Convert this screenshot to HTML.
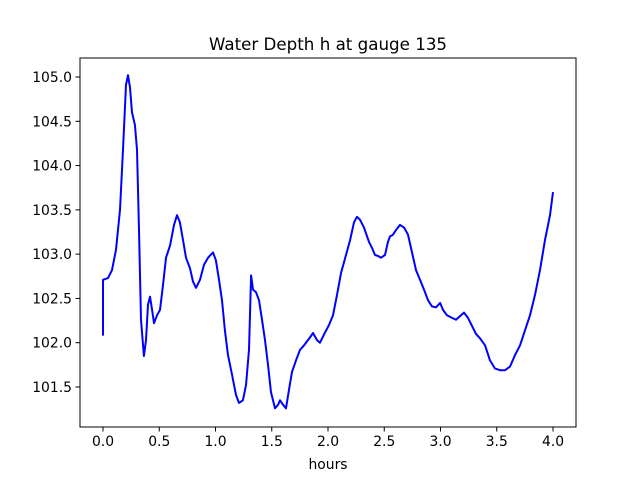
<!DOCTYPE html>
<html><head><meta charset="utf-8"><style>
html,body{margin:0;padding:0;background:#fff;}
svg text{font-family:"DejaVu Sans","Liberation Sans",sans-serif;fill:#000;}
</style></head><body>
<svg id="chart" width="640" height="480" xmlns="http://www.w3.org/2000/svg">
<rect x="0" y="0" width="640" height="480" fill="#fff"/>
<text x="328" y="50" font-size="16.7" text-anchor="middle">Water Depth h at gauge 135</text>
<text x="328" y="469" font-size="13.9" text-anchor="middle">hours</text>
<g id="ticks"></g>
<polyline id="line" fill="none" stroke="#0000ff" stroke-width="2" stroke-linejoin="round"/>
<rect x="80" y="58" width="496" height="369" fill="none" stroke="#000" stroke-width="1"/>
</svg>
<script>
const hours=[0,0,0.044,0.08,0.116,0.151,0.178,0.204,0.222,0.24,0.258,0.284,0.302,0.32,0.338,0.364,0.382,0.4,0.418,0.436,0.453,0.48,0.507,0.533,0.56,0.596,0.631,0.658,0.684,0.711,0.738,0.773,0.8,0.827,0.862,0.898,0.933,0.978,1.004,1.031,1.058,1.084,1.111,1.147,1.182,1.209,1.244,1.271,1.298,1.316,1.333,1.36,1.387,1.413,1.44,1.467,1.493,1.529,1.556,1.573,1.6,1.627,1.653,1.68,1.716,1.751,1.787,1.84,1.867,1.902,1.929,1.964,2.009,2.044,2.08,2.116,2.16,2.196,2.231,2.258,2.284,2.32,2.364,2.391,2.418,2.444,2.471,2.507,2.533,2.551,2.578,2.604,2.64,2.676,2.711,2.747,2.782,2.818,2.853,2.889,2.924,2.96,2.996,3.022,3.058,3.102,3.138,3.173,3.209,3.244,3.28,3.316,3.351,3.396,3.44,3.484,3.529,3.573,3.618,3.662,3.707,3.751,3.796,3.84,3.884,3.929,3.973,4.0];
const depth=[102.08,102.71,102.73,102.82,103.05,103.5,104.18,104.91,105.02,104.88,104.6,104.46,104.18,103.27,102.26,101.85,102.03,102.43,102.52,102.37,102.22,102.31,102.37,102.65,102.96,103.1,103.33,103.44,103.36,103.16,102.96,102.84,102.69,102.62,102.71,102.88,102.96,103.02,102.93,102.71,102.48,102.14,101.86,101.64,101.41,101.32,101.35,101.52,101.92,102.76,102.6,102.57,102.48,102.26,102.03,101.75,101.44,101.26,101.3,101.35,101.3,101.26,101.47,101.67,101.8,101.92,101.97,102.06,102.11,102.03,102.0,102.09,102.2,102.31,102.54,102.79,102.99,103.16,103.36,103.42,103.39,103.3,103.14,103.07,102.99,102.98,102.96,102.99,103.14,103.2,103.22,103.27,103.33,103.3,103.22,103.02,102.82,102.71,102.6,102.48,102.41,102.4,102.45,102.37,102.31,102.28,102.26,102.3,102.34,102.28,102.19,102.1,102.05,101.97,101.8,101.71,101.69,101.69,101.73,101.86,101.97,102.14,102.31,102.54,102.82,103.16,103.44,103.7];
const xTicks=[0,0.5,1,1.5,2,2.5,3,3.5,4];
const yTicks=[101.5,102,102.5,103,103.5,104,104.5,105];
function sx(t){return 103+t*112.5;}
function sy(h){return 77+(105-h)*88.571;}
const NS="http://www.w3.org/2000/svg";
const g=document.getElementById('ticks');
xTicks.forEach(t=>{
  const l=document.createElementNS(NS,'line');
  
  
  l.setAttribute('x1',sx(t));l.setAttribute('x2',sx(t));l.setAttribute('y1',427);l.setAttribute('y2',431.5);l.setAttribute('stroke','#000');
  g.appendChild(l);
  const tx=document.createElementNS(NS,'text');
  
  
  tx.setAttribute('x',sx(t));tx.setAttribute('y',446);tx.setAttribute('font-size','13.9');tx.setAttribute('text-anchor','middle');
  tx.textContent=t.toFixed(1);g.appendChild(tx);
});
yTicks.forEach(h=>{
  const l=document.createElementNS(NS,'line');
  
  
  l.setAttribute('x1',75.5);l.setAttribute('x2',80);l.setAttribute('y1',sy(h));l.setAttribute('y2',sy(h));l.setAttribute('stroke','#000');
  g.appendChild(l);
  const tx=document.createElementNS(NS,'text');
  
  
  tx.setAttribute('x',72);tx.setAttribute('y',sy(h)+5);tx.setAttribute('font-size','13.9');tx.setAttribute('text-anchor','end');
  tx.textContent=h.toFixed(1);g.appendChild(tx);
});
document.getElementById('line').setAttribute('points',hours.map((t,i)=>sx(t).toFixed(1)+','+sy(depth[i]).toFixed(1)).join(' '));
</script>
</body></html>
